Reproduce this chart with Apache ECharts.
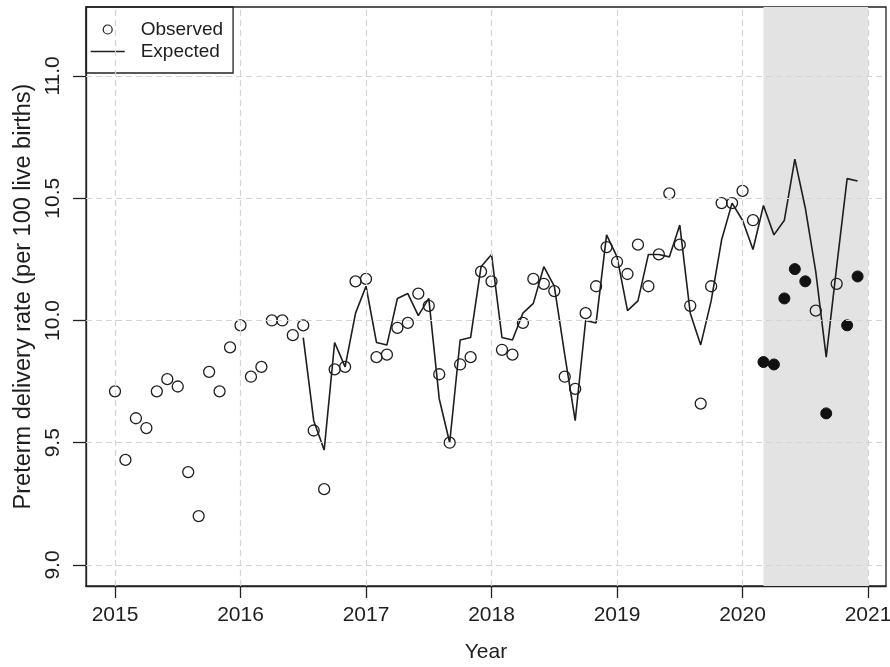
<!DOCTYPE html>
<html><head><meta charset="utf-8">
<script src="https://cdn.jsdelivr.net/npm/echarts@6/dist/echarts.min.js"></script>
<style>html,body{margin:0;padding:0;background:#fff}#c{width:890px;height:667px}</style>
</head><body><div id="c"></div>
<script>
// Monthly observed preterm delivery rate, Jan 2015 .. Dec 2020
const observed = [
  9.71, 9.43, 9.60, 9.56, 9.71, 9.76, 9.73, 9.38, 9.20, 9.79, 9.71, 9.89,
  9.98, 9.77, 9.81, 10.00, 10.00, 9.94, 9.98, 9.55, 9.31, 9.80, 9.81, 10.16,
  10.17, 9.85, 9.86, 9.97, 9.99, 10.11, 10.06, 9.78, 9.50, 9.82, 9.85, 10.20,
  10.16, 9.88, 9.86, 9.99, 10.17, 10.15, 10.12, 9.77, 9.72, 10.03, 10.14, 10.30,
  10.24, 10.19, 10.31, 10.14, 10.27, 10.52, 10.31, 10.06, 9.66, 10.14, 10.48, 10.48,
  10.53, 10.41, 9.83, 9.82, 10.09, 10.21, 10.16, 10.04, 9.62, 10.15, 9.98, 10.18
];
const observedStart = '2015-01';
// months drawn as filled circles
const filledMonths = ['2020-03','2020-04','2020-05','2020-06','2020-07','2020-09','2020-11','2020-12'];
// Expected rate, Jul 2016 .. Dec 2020
const expectedStart = '2016-07';
const expected = [
  9.93, 9.59, 9.47, 9.91, 9.81, 10.03,
  10.14, 9.91, 9.90, 10.09, 10.11, 10.02, 10.09, 9.68, 9.50, 9.92, 9.93, 10.22,
  10.27, 9.93, 9.92, 10.03, 10.07, 10.22, 10.14, 9.86, 9.59, 10.00, 9.99, 10.35,
  10.26, 10.04, 10.08, 10.27, 10.27, 10.26, 10.39, 10.03, 9.90, 10.08, 10.33, 10.48,
  10.41, 10.29, 10.47, 10.35, 10.41, 10.66, 10.46, 10.20, 9.85, 10.22, 10.58, 10.57
];
const xTicks = [2015, 2016, 2017, 2018, 2019, 2020, 2021];
const yTicks = [9.0, 9.5, 10.0, 10.5, 11.0];
const shadedPeriod = ['2020-03', '2021-01'];

function toX(ym) { const p = ym.split('-').map(Number); return p[0] + (p[1] - 1) / 12; }
const obsX0 = toX(observedStart), expX0 = toX(expectedStart);
const filledSet = new Set(filledMonths.map(toX).map(v => v.toFixed(4)));
const openData = [], filledData = [];
observed.forEach((v, i) => {
  const x = obsX0 + i / 12;
  (filledSet.has(x.toFixed(4)) ? filledData : openData).push([x, v]);
});
const expData = expected.map((v, i) => [expX0 + i / 12, v]);

const FONT = 'Liberation Sans, Arial, Helvetica, sans-serif';
const INK = '#1e1e1e';
const chart = echarts.init(document.getElementById('c'), null, { renderer: 'canvas' });
chart.setOption({
  animation: false,
  backgroundColor: '#fff',
  textStyle: { fontFamily: FONT, color: INK },
  grid: { left: 86, right: 4, top: 7, bottom: 81, outerBoundsMode: 'none', containLabel: false,
          show: true, borderColor: '#222', borderWidth: 1.3, backgroundColor: 'transparent' },
  legend: {
    orient: 'vertical', left: 86, top: 7,
    padding: [13, 10, 12, 4],
    itemWidth: 34, itemHeight: 9, itemGap: 3,
    borderColor: '#222', borderWidth: 1.3, borderRadius: 0,
    textStyle: { fontSize: 19, color: INK, fontFamily: FONT, padding: [0, 0, 0, 11] },
    data: [
      { name: 'Observed', icon: 'circle', itemStyle: { color: 'rgba(0,0,0,0)', borderColor: INK, borderWidth: 1.2, opacity: 1 } },
      { name: 'Expected', itemStyle: { opacity: 0 }, lineStyle: { color: INK, width: 1.4 } }
    ]
  },
  xAxis: {
    type: 'value', min: 2014.769, max: 2021.143,
    name: 'Year', nameLocation: 'middle', nameGap: 56,
    nameTextStyle: { fontSize: 21, color: INK, fontFamily: FONT },
    axisLine: { show: true, lineStyle: { color: '#222', width: 1.3 } },
    axisTick: { show: true, length: 12, lineStyle: { color: '#222', width: 1.3 }, customValues: xTicks },
    axisLabel: { fontSize: 21, color: INK, margin: 19, customValues: xTicks, formatter: v => String(v) },
    splitLine: { show: false }
  },
  yAxis: {
    type: 'value', min: 8.914, max: 11.282,
    name: 'Preterm delivery rate (per 100 live births)', nameLocation: 'middle', nameGap: 50, nameRotate: 90,
    nameTextStyle: { fontSize: 23.5, color: INK, fontFamily: FONT },
    axisLine: { show: true, lineStyle: { color: '#222', width: 1.3 } },
    axisTick: { show: true, length: 13, lineStyle: { color: '#222', width: 1.3 }, customValues: yTicks },
    axisLabel: { fontSize: 21, color: INK, margin: 22, rotate: 90, customValues: yTicks, formatter: v => v.toFixed(1) },
    splitLine: { show: false }
  },
  series: [
    {
      name: 'grid', type: 'line', data: [], z: 1, silent: true,
      markLine: {
        silent: true, symbol: 'none', label: { show: false },
        lineStyle: { color: '#d4d4d4', type: [6, 4], width: 1.2 },
        data: xTicks.map(v => ({ xAxis: v })).concat(yTicks.map(v => ({ yAxis: v })))
      }
    },
    {
      name: 'shade', type: 'line', data: [], z: 2, silent: true,
      markArea: {
        silent: true, itemStyle: { color: '#e3e3e3', opacity: 1 },
        data: [[{ xAxis: toX(shadedPeriod[0]) }, { xAxis: toX(shadedPeriod[1]) }]]
      }
    },
    {
      name: 'Expected', type: 'line', data: expData, z: 3,
      symbol: 'none', lineStyle: { color: INK, width: 1.6 }, itemStyle: { color: INK }
    },
    {
      name: 'Observed', type: 'scatter', data: openData, z: 4,
      symbol: 'circle', symbolSize: 11,
      itemStyle: { color: 'rgba(0,0,0,0)', borderColor: INK, borderWidth: 1.3, opacity: 1 }
    },
    {
      name: 'Observed filled', type: 'scatter', data: filledData, z: 4,
      symbol: 'circle', symbolSize: 11,
      itemStyle: { color: '#111', borderColor: '#111', borderWidth: 1, opacity: 1 }
    }
  ]
});
</script></body></html>
